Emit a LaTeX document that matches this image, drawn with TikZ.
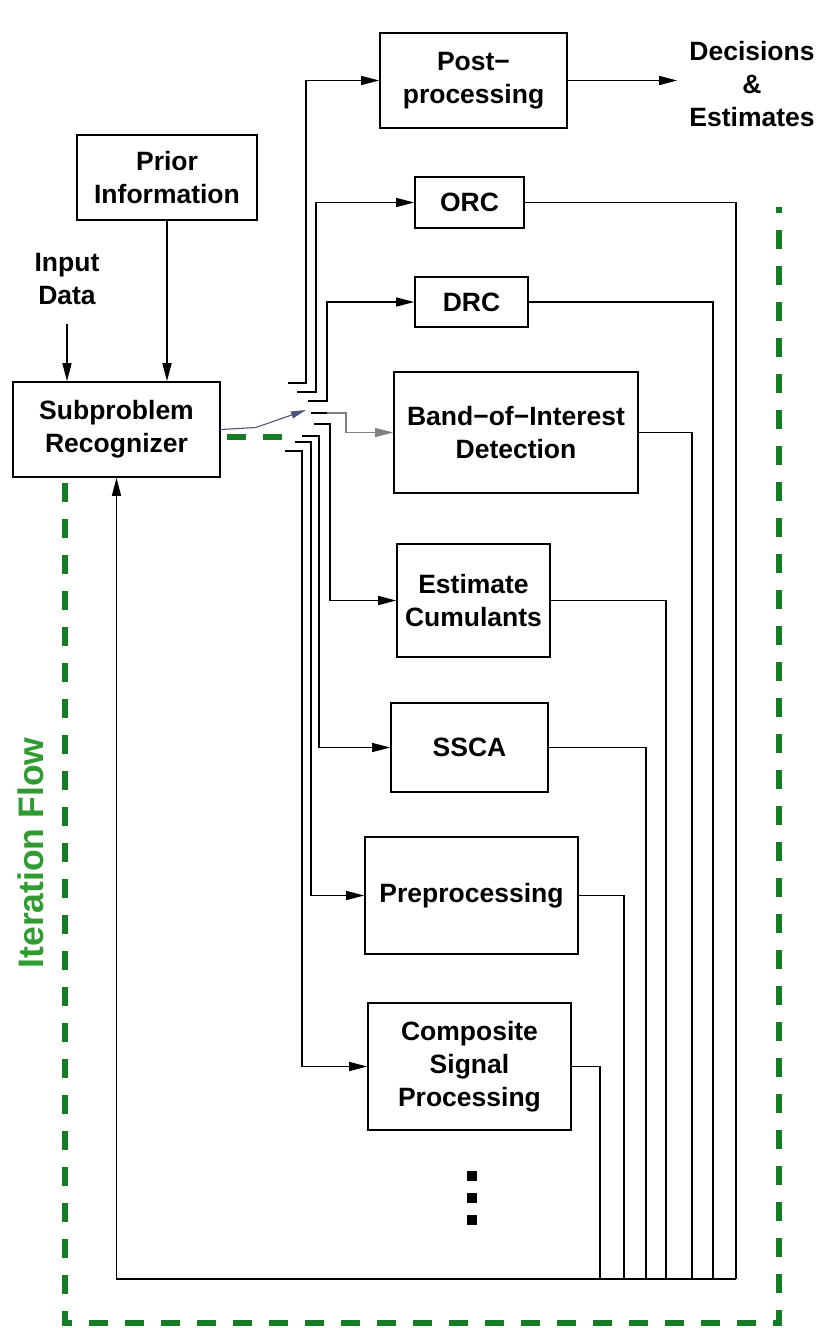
\documentclass[tikz,border=0pt]{standalone}
\usepackage{fontspec}
\setmainfont{Liberation Sans}
\usetikzlibrary{arrows.meta}
\definecolor{flowgreen}{RGB}{22,125,38}
\definecolor{labelgreen}{RGB}{48,155,48}
\definecolor{switchblue}{RGB}{75,85,125}
\newcommand\boxfont{\bfseries\fontsize{26.5}{33}\selectfont}
\begin{document}
\begin{tikzpicture}[x=1pt,y=-1pt,
  box/.style={draw, line width=1.6pt, inner sep=0pt, align=center, font=\boxfont},
  label/.style={align=center, font=\boxfont},
  wire/.style={line width=1.4pt},
  arr/.style={wire, -{Triangle[length=18pt,width=9pt]}},
  flow/.style={draw=flowgreen, line width=6.5pt, dash pattern=on 19pt off 17pt}]
\useasboundingbox (0,0) rectangle (821,1328);

% blocks
\node[box, minimum width=180, minimum height=85]  (prior) at (167,177.5)  {Prior\\Information};
\node[box, minimum width=207, minimum height=95]  (sub)   at (116.5,429.5) {Subproblem\\Recognizer};
\node[box, minimum width=187, minimum height=95]  (post)  at (473.5,80.5) {Post−\\processing};
\node[box, minimum width=109, minimum height=51]  (orc)   at (469.5,202.5) {ORC};
\node[box, minimum width=113, minimum height=50]  (drc)   at (471.5,302)  {DRC};
\node[box, minimum width=244, minimum height=121] (band)  at (516,432.5)  {Band−of−Interest\\Detection};
\node[box, minimum width=153, minimum height=113] (cum)   at (473.5,600.5) {Estimate\\Cumulants};
\node[box, minimum width=157, minimum height=89]  (ssca)  at (469.5,747.5) {SSCA};
\node[box, minimum width=213, minimum height=117] (pre)   at (471.5,895.5) {Preprocessing};
\node[box, minimum width=203, minimum height=127] (comp)  at (469.5,1066.5) {Composite\\Signal\\Processing};

% free labels
\node[label] (inp) at (67,279) {Input\\Data};
\node[label, inner sep=12pt] (dec) at (752,84) {Decisions\\\&\\Estimates};
\node[rotate=90, text=labelgreen, font=\bfseries\fontsize{35.5}{40}\selectfont] (iter) at (31,853) {Iteration Flow};

% inputs to the recognizer
\draw[arr, shorten <=16pt] (inp.south) -- (inp.south |- sub.north);
\draw[arr] (prior.south) -- (prior.south |- sub.north);

% selector switch
\coordinate (sw) at (306,410);
\draw[switchblue, line width=1.1pt, -{Triangle[length=15pt,width=7pt]}] (sub.east) -- ++(35,-2) -- (sw);

% switch contacts and feeds into the processing blocks
\coordinate (c1) at (288,383);
\coordinate (c2) at (297,392);
\coordinate (c3) at (308,401);
\coordinate (c4) at (311,413);
\coordinate (g4) at (327,413);
\coordinate (c5) at (314,424);
\coordinate (c6) at (302,436);
\coordinate (c7) at (295,442);
\coordinate (c8) at (285,451);
\draw[arr] (c1) -- ++(18,0) |- (post.west);
\draw[arr] (c2) -- ++(19,0) |- (orc.west);
\draw[arr] (c3) -- ++(19,0) |- (drc.west);
\draw[wire] (c4) -- (g4);
\draw[draw=gray, line width=1.1pt, -{Triangle[length=18pt,width=9pt]}] (g4) -- ++(19,0) |- (band.west);
\draw[arr] (c5) -- ++(16,0) |- (cum.west);
\draw[arr] (c6) -- ++(17,0) |- (ssca.west);
\draw[arr] (c7) -- ++(16,0) |- (pre.west);
\draw[arr] (c8) -- ++(17,0) |- (comp.west);

% output
\draw[arr] (post.east) -- (post.east -| dec.west);

% return paths
\coordinate (b1) at (736,1279);
\coordinate (b2) at (713,1279);
\coordinate (b3) at (692,1279);
\coordinate (b4) at (666,1279);
\coordinate (b5) at (646,1279);
\coordinate (b6) at (624,1279);
\coordinate (b7) at (600,1279);
\draw[wire] (orc.east)  -| (b1);
\draw[wire] (drc.east)  -| (b2);
\draw[wire] (band.east) -| (b3);
\draw[wire] (cum.east)  -| (b4);
\draw[wire] (ssca.east) -| (b5);
\draw[wire] (pre.east)  -| (b6);
\draw[wire] (comp.east) -| (b7);
\draw[arr] (b1) -| (sub.south);

% more blocks follow
\fill (467,1171) rectangle ++(10,10);
\fill (467,1193) rectangle ++(10,10);
\fill (467,1215) rectangle ++(10,10);

% iteration loop
\draw[flow] (65,483) -- (65,1323) -- (779,1323) -- (779,207);
\draw[flow] (227,437) -- (283,437);
\end{tikzpicture}
\end{document}
